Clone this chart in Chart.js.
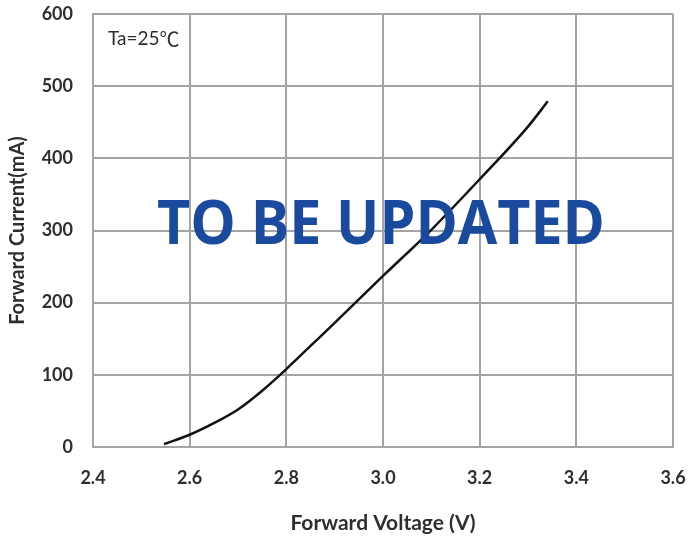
<!DOCTYPE html>
<html>
<head>
<meta charset="utf-8">
<script src="https://cdn.jsdelivr.net/npm/chart.js@4"></script>
<style>
  html, body { margin: 0; padding: 0; background: #fff; }
  #wrap { width: 688px; height: 540px; }
</style>
</head>
<body>
<div id="wrap"><canvas id="ivChart" width="688" height="540"></canvas></div>
<script>
// forward voltage (V) vs forward current (mA)
const voltage = [2.547, 2.6, 2.65, 2.7, 2.75, 2.8, 2.85, 2.9, 3.0, 3.1, 3.2, 3.3, 3.341];
const current = [4, 17, 33, 52, 78, 108, 140, 172, 237, 301, 371, 444, 479];

const xTicks = [2.4, 2.6, 2.8, 3.0, 3.2, 3.4, 3.6];
const yTicks = [0, 100, 200, 300, 400, 500, 600];

const noteText = 'Ta=25';
const noteUnit = '\u2103';
const stampText = 'TO BE UPDATED';

const labelFont = 'Lato, "Open Sans", sans-serif';
const textColor = '#2e2e2e';
const gridColor = '#a4a4a4';

const overlay = {
  id: 'overlay',
  afterDraw(chart) {
    const ctx = chart.ctx;
    ctx.save();
    ctx.fillStyle = textColor;
    ctx.textBaseline = 'middle';
    ctx.textAlign = 'left';
    ctx.font = '19px Lato, sans-serif';
    ctx.fillText(noteText, 108, 39);
    const w = ctx.measureText(noteText).width;
    ctx.font = '20px "Noto Sans CJK SC", sans-serif';
    ctx.fillText(noteUnit, 108 + w, 39);

    ctx.fillStyle = '#1a4a9e';
    ctx.font = 'bold 60px "Open Sans", sans-serif';
    ctx.textAlign = 'center';
    ctx.fillText(stampText, 381, 227, 448);
    ctx.restore();
  }
};

new Chart(document.getElementById('ivChart'), {
  type: 'scatter',
  data: {
    datasets: [{
      label: 'IV',
      data: voltage.map((v, i) => ({ x: v, y: current[i] })),
      showLine: true,
      borderColor: '#111',
      borderWidth: 2.5,
      pointRadius: 0,
      cubicInterpolationMode: 'monotone',
      fill: false
    }]
  },
  options: {
    responsive: false,
    animation: false,
    layout: { padding: { top: 14, right: 15, left: 0, bottom: 0 } },
    plugins: {
      legend: { display: false },
      tooltip: { enabled: false }
    },
    scales: {
      x: {
        type: 'linear',
        min: 2.4,
        max: 3.6,
        afterBuildTicks: s => { s.ticks = xTicks.map(v => ({ value: v })); },
        afterFit: s => { s.height = 93; s.paddingLeft = 0; s.paddingRight = 0; },
        ticks: {
          padding: 20,
          color: textColor,
          font: { family: labelFont, size: 18, weight: 'bold' },
          callback: v => Number(v).toFixed(1),
          maxRotation: 0
        },
        grid: { color: gridColor, lineWidth: 2, drawTicks: false },
        border: { color: gridColor, width: 2 },
        title: {
          display: true,
          text: 'Forward Voltage (V)',
          color: textColor,
          font: { family: labelFont, size: 21, weight: 'bold' },
          padding: { top: 0, bottom: 4 }
        }
      },
      y: {
        type: 'linear',
        min: 0,
        max: 600,
        afterBuildTicks: s => { s.ticks = yTicks.map(v => ({ value: v })); },
        afterFit: s => { s.width = 93; s.paddingTop = 0; s.paddingBottom = 0; },
        ticks: {
          padding: 20,
          color: textColor,
          font: { family: labelFont, size: 18, weight: 'bold' }
        },
        grid: { color: gridColor, lineWidth: 2, drawTicks: false },
        border: { color: gridColor, width: 2 },
        title: {
          display: true,
          text: 'Forward Current(mA)',
          color: textColor,
          font: { family: labelFont, size: 20, weight: 'bold' },
          padding: { top: 6, bottom: 0 }
        }
      }
    }
  },
  plugins: [overlay]
});
</script>
</body>
</html>
